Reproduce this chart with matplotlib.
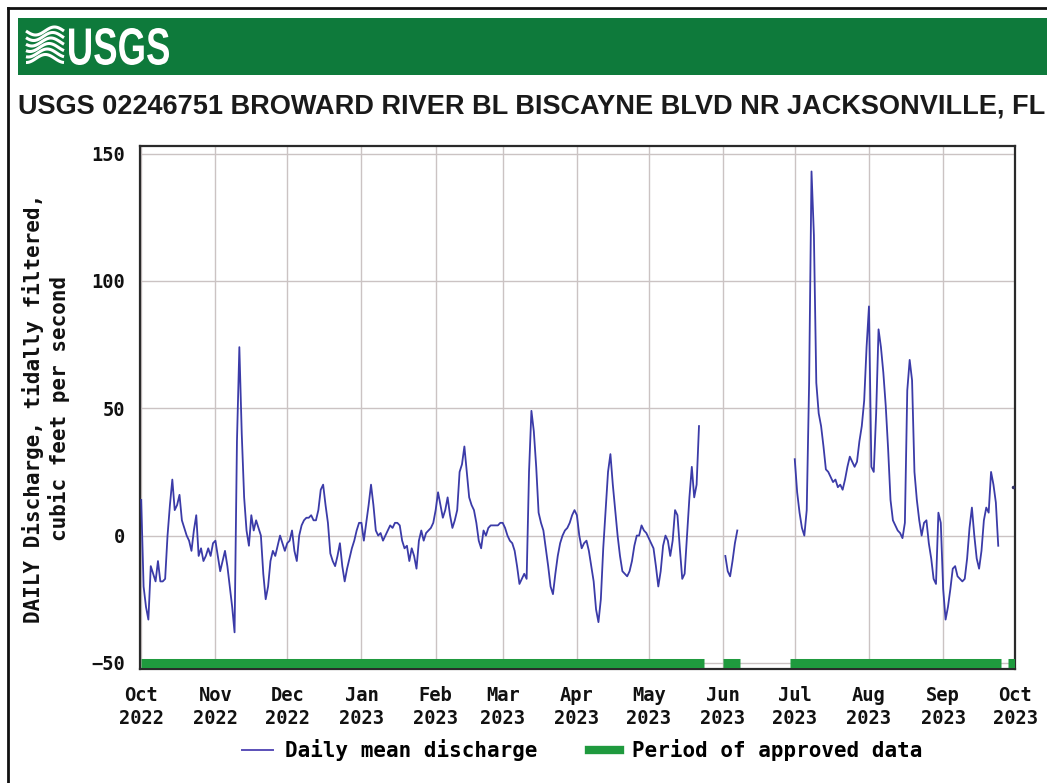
import matplotlib
matplotlib.use('Agg')
import matplotlib.pyplot as plt
import matplotlib.dates as mdates
from matplotlib.lines import Line2D
from matplotlib.patches import Rectangle, PathPatch
from matplotlib.textpath import TextPath
from matplotlib.font_manager import FontProperties
from matplotlib.transforms import Affine2D
import numpy as np
import pandas as pd

# daily mean discharge, tidally filtered (cfs)
seg1_start = '2022-10-01'
seg1 = [14, -20, -28, -33, -12, -15, -18, -10, -18, -18,
        -17, 0, 12, 22, 10, 12, 16, 6, 3, 0,
        -2, -6, 2, 8, -8, -5, -10, -8, -5, -8,
        -3, -2, -8, -14, -10, -6, -12, -20, -28, -38,
        37, 74, 40, 15, 2, -4, 8, 2, 6, 3,
        0, -15, -25, -20, -10, -6, -8, -4, 0, -3,
        -6, -3, -2, 2, -6, -10, 0, 4, 6, 7,
        7, 8, 6, 6, 10, 18, 20, 12, 5, -7,
        -10, -12, -8, -3, -12, -18, -13, -9, -5, -2,
        2, 5, 5, -2, 5, 12, 20, 12, 2, 0,
        1, -2, 0, 2, 4, 3, 5, 5, 4, -2,
        -5, -4, -10, -5, -8, -13, -2, 2, -2, 1,
        2, 3, 5, 10, 17, 12, 7, 10, 15, 8,
        3, 6, 10, 25, 28, 35, 25, 15, 12, 10,
        5, -2, -5, 2, 0, 3, 4, 4, 4, 4,
        5, 5, 3, 0, -2, -3, -6, -12, -19, -17,
        -15, -17, 25, 49, 41, 27, 9, 5, 2, -5,
        -12, -20, -23, -15, -8, -3, 0, 2, 3, 5,
        8, 10, 8, 0, -5, -3, -2, -6, -12, -18,
        -29, -34, -25, -5, 10, 25, 32, 20, 10, 0,
        -8, -14, -15, -16, -14, -10, -4, 0, 0, 4,
        2, 1, -1, -3, -5, -12, -20, -14, -4, 0,
        -2, -8, -2, 10, 8, -5, -17, -15, 0, 15,
        27, 15, 20, 43]

seg2_start = '2023-06-02'
seg2 = [-8, -14, -16, -10, -3, 2]

seg3_start = '2023-07-01'
seg3 = [30, 17, 9, 3, 0, 10, 60, 143, 118, 60,
        48, 43, 35, 26, 25, 23, 21, 22, 19, 20,
        18, 22, 27, 31, 29, 27, 29, 37, 43, 53,
        74, 90, 27, 25, 48, 81, 74, 64, 51, 34,
        14, 6, 4, 2, 1, -1, 5, 57, 69, 61,
        25, 14, 6, 0, 5, 6, -3, -9, -17, -19,
        9, 5, -21, -33, -28, -21, -13, -12, -16, -17,
        -18, -17, -9, 3, 11, 0, -9, -13, -6, 6,
        11, 9, 25, 20, 13, -4]

lone_date = '2023-09-30'
lone_value = 19

# periods of approved data
approved = [('2022-10-01', '2023-05-24'),
            ('2023-06-01', '2023-06-08'),
            ('2023-06-29', '2023-09-25'),
            ('2023-09-28', '2023-10-01')]

yticks = [-50, 0, 50, 100, 150]
title = 'USGS 02246751 BROWARD RIVER BL BISCAYNE BLVD NR JACKSONVILLE, FL'
ylabel = 'DAILY Discharge, tidally filtered,\ncubic feet per second'

line_color = '#3b3ba8'
green = '#1f9a3e'

plt.rcParams['font.family'] = ['DejaVu Sans Mono']
plt.rcParams['font.weight'] = 'bold'

W, H = 1047, 783
fig = plt.figure(figsize=(W / 100, H / 100), dpi=100)

# header: banner, logo, title
hdr = fig.add_axes([0, 0, 1, 1])
hdr.set_xlim(0, W)
hdr.set_ylim(H, 0)
hdr.axis('off')
hdr.plot([8, 8], [8, H], color='#111111', lw=2)
hdr.plot([8, W], [8, 8], color='#111111', lw=2)
hdr.add_patch(Rectangle((18, 18), W - 18, 57, color='#0e7a3b', lw=0))
t = np.linspace(0, 1, 50)
for k in range(6):
    hdr.plot(26 + 38 * t, 31 + 5.5 * k + 4 * np.sin(2 * np.pi * t + k * 0.3),
             color='white', lw=2.2, solid_capstyle='butt')

# condensed "USGS" wordmark
fp = FontProperties(family='Liberation Sans', weight='bold')
tp = TextPath((0, 0), 'USGS', size=50, prop=fp)
bb = tp.get_extents()
sx = 100 / bb.width
sy = 37 / bb.height
tr = Affine2D().translate(-bb.x0, -bb.y0).scale(sx, -sy).translate(69, 65)
hdr.add_patch(PathPatch(tr.transform_path(tp), color='white', lw=0))

hdr.text(18, 114, title, color='#1a1a1a', fontsize=19.5, fontweight='bold',
         family=['Liberation Sans', 'DejaVu Sans'],
         va='baseline', ha='left')

# main plot
ax = fig.add_axes([140 / W, 1 - 669 / H, 875 / W, 523 / H])

d1 = pd.date_range(seg1_start, periods=len(seg1), freq='D')
d2 = pd.date_range(seg2_start, periods=len(seg2), freq='D')
d3 = pd.date_range(seg3_start, periods=len(seg3), freq='D')

for s, e in approved:
    ax.plot([pd.Timestamp(s), pd.Timestamp(e)], [-50, -50], color=green,
            lw=6.5, solid_capstyle='butt', zorder=3)

ax.plot(d1, seg1, color=line_color, lw=1.3, zorder=4)
ax.plot(d2, seg2, color=line_color, lw=1.3, zorder=4)
ax.plot(d3, seg3, color=line_color, lw=1.3, zorder=4)
ax.plot([pd.Timestamp(lone_date)], [lone_value], 'o', color='#333366', ms=1.5, zorder=4)

ax.set_xlim(pd.Timestamp('2022-09-30 12:00'), pd.Timestamp('2023-10-01'))
ax.set_ylim(-52.4, 153)
ax.set_yticks(yticks)
ax.xaxis.set_major_locator(mdates.MonthLocator())
ax.xaxis.set_major_formatter(mdates.DateFormatter('%b\n%Y'))
ax.tick_params(length=0, labelsize=13.5, colors='#111111')
ax.tick_params(axis='x', pad=12)
ax.tick_params(axis='y', pad=11)
for lab in ax.get_xticklabels():
    lab.set_linespacing(1.3)
ax.grid(True, color='#cbc3c3', lw=1)
ax.set_axisbelow(True)
for sp in ax.spines.values():
    sp.set_color('#2a2a2a')
    sp.set_linewidth(1.6)

ax.set_ylabel(ylabel, fontsize=15, fontweight='bold', linespacing=1.2,
              va='center', color='#111111')
ax.yaxis.set_label_coords((46 - 140) / 875, (669 - 408) / 523)

handles = [Line2D([], [], color='#5a4fb8', lw=1.4),
           Line2D([], [], color=green, lw=6)]
fig.legend(handles, ['Daily mean discharge', 'Period of approved data'],
           loc='center', bbox_to_anchor=(582 / W, 1 - 750 / H), ncol=2,
           frameon=False, prop={'size': 15, 'weight': 'bold'},
           handlelength=1.5, columnspacing=2.5, handletextpad=0.55)

fig.savefig('out.png', dpi=100)
